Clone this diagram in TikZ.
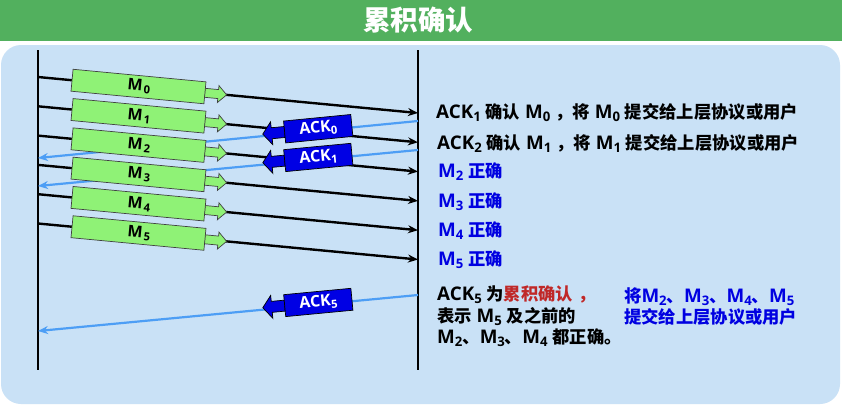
\documentclass[tikz,border=0pt]{standalone}
\usepackage{fontspec}
\setmainfont{Open Sans}[Scale=1.087]
\newfontfamily\cjkfont{Noto Sans CJK SC}
\newcommand\zh[1]{{\cjkfont #1}}
\makeatletter
\newcommand\sub[1]{\raisebox{-0.16em}{\fontsize{\the\dimexpr\f@size pt*7/10\relax}{0pt}\selectfont #1}}
\makeatother
\usetikzlibrary{arrows.meta}
\definecolor{titlegreen}{RGB}{82,176,94}
\definecolor{panelblue}{RGB}{201,225,246}
\definecolor{boxgreen}{RGB}{143,242,118}
\definecolor{ackblue}{RGB}{0,0,228}
\definecolor{acklinecol}{RGB}{77,158,245}
\definecolor{textblue}{RGB}{0,0,225}
\definecolor{notered}{RGB}{192,40,40}
\begin{document}
\begin{tikzpicture}[x=1pt,y=-1pt,
  msgline/.style={line width=2.4pt, -{Stealth[length=10pt,width=8pt]}},
  ackline/.style={line width=2.2pt, draw=acklinecol, -{Stealth[length=10pt,width=8pt]}},
  timeline/.style={line width=2.5pt},
  msgshape/.style={draw=black!75, line width=0.7pt, fill=boxgreen},
  msglabel/.style={inner sep=0pt, font=\fontsize{14.7}{16}\selectfont\bfseries},
  ackshape/.style={draw=black, line width=0.7pt, fill=ackblue},
  acklabel/.style={inner sep=0pt, text=white, font=\fontsize{14.7}{16}\selectfont\bfseries},
  rtext/.style={anchor=west, inner sep=0pt, font=\fontsize{17.3}{21.5}\selectfont\bfseries},
]
\useasboundingbox (0,0) rectangle (842,418);
\fill[white] (0,0) rectangle (842,418);
% title bar
\fill[titlegreen] (0,0) rectangle (842,41);
\node[text=white, inner sep=0pt, font=\fontsize{27.5}{30}\selectfont\bfseries] (title) at (418,20) {\zh{累积确认}};
% panel
\fill[panelblue, rounded corners=20pt] (1,45) rectangle (840,404);
% timelines
\coordinate (lt) at (38,50);  \coordinate (lb) at (38,370);
\coordinate (rtop) at (418,50); \coordinate (rb) at (418,370);
\draw[timeline] (lt) -- (lb);
\draw[timeline] (rtop) -- (rb);
% message lines
\foreach \i/\s in {0/77,1/106.3,2/135.6,3/164.9,4/194.2,5/223.5} {
  \coordinate (ms\i) at (38,\s);
  \coordinate (mr\i) at (418,\s+36);
  \draw[msgline] (ms\i) -- (mr\i);
}
% ack lines
\coordinate (a0r) at (418,121); \coordinate (a0l) at (38,158);
\coordinate (a1r) at (418,150); \coordinate (a1l) at (38,186);
\coordinate (a5r) at (418,295); \coordinate (a5l) at (38,331);
\draw[ackline] (a0r) -- (a0l);
\draw[ackline] (a1r) -- (a1l);
\draw[ackline] (a5r) -- (a5l);
% message boxes
\foreach \i in {0,...,5} {
  \begin{scope}[shift={(ms\i)}, rotate=-5.41, transform shape]
    \draw[msgshape] (167.5,-4.5) -- (181,-4.5) -- (181,-8.5) -- (189.5,0) -- (181,8.5) -- (181,4.5) -- (167.5,4.5) -- cycle;
    \draw[msgshape] (34.2,-11) rectangle (167.7,11);
    \node[msglabel] (m\i) at (101.5,0) {M\kern1.5pt\sub{\i}};
  \end{scope}
}
% ack boxes
\foreach \k/\a in {0/5.56,1/5.41,5/5.41} {
  \begin{scope}[shift={(a\k l)}, rotate=\a, transform shape]
    \draw[ackshape] (248,-7.5) -- (235,-7.5) -- (235,-13.5) -- (226,-2) -- (235,9.5) -- (235,3.5) -- (248,3.5) -- cycle;
    \draw[ackshape] (248,-13) rectangle (315.5,9);
    \node[acklabel] (k\k) at (281.8,-2) {ACK\sub{\k}};
  \end{scope}
}
% right texts
\node[rtext] (t0) at (436,113) {ACK\sub{1} \zh{确认} M\sub{0} \zh{，将} M\sub{0} \zh{提交给上层协议或用户}};
\node[rtext] (t1) at (437,143) {ACK\sub{2} \zh{确认} M\sub{1} \zh{，将} M\sub{1} \zh{提交给上层协议或用户}};
\node[rtext, text=textblue] (t2) at (438,172) {M\sub{2} \zh{正确}};
\node[rtext, text=textblue] (t3) at (438,202) {M\sub{3} \zh{正确}};
\node[rtext, text=textblue] (t4) at (438,231) {M\sub{4} \zh{正确}};
\node[rtext, text=textblue] (t5) at (438,260) {M\sub{5} \zh{正确}};
\node[rtext, align=left] (note) at (437,316.5) {ACK\sub{5} \zh{为}\textcolor{notered}{\zh{累积确认} \zh{，}}\\
  \zh{表示} M\sub{5} \zh{及之前的}\\
  M\sub{2}\zh{、}M\sub{3}\zh{、}M\sub{4} \zh{都正确。}};
\node[rtext, align=left, text=textblue] (deliver) at (624,306.5) {\zh{将}M\sub{2}\zh{、}M\sub{3}\zh{、}M\sub{4}\zh{、}M\sub{5}\\
  \zh{提交给上层协议或用户}};
\end{tikzpicture}
\end{document}
